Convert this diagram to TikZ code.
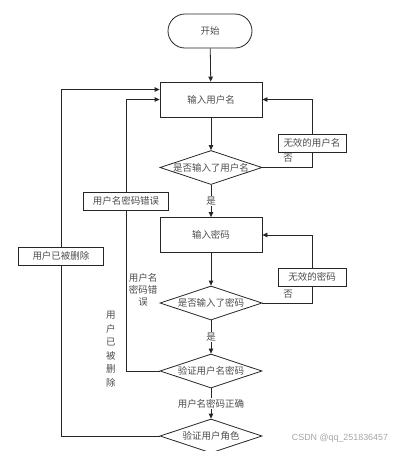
\documentclass[tikz,border=0pt]{standalone}
\usepackage{fontspec}
\newfontfamily\cjk{Noto Sans CJK SC}
\newfontfamily\wmfont{Liberation Sans}
\usetikzlibrary{shapes.geometric,arrows.meta,positioning}

\tikzset{
  flow/.style={draw=black!85, line width=0.8pt, inner sep=0pt},
  lbl/.style={text=black!70, font=\cjk\fontsize{9.5}{11}\selectfont, inner sep=1pt},
  terminal/.style={flow, lbl, rectangle, rounded corners=17pt, minimum width=84pt, minimum height=34pt},
  process/.style={flow, lbl, rectangle, minimum width=102pt, minimum height=35pt},
  decision/.style={flow, diamond, minimum width=102pt, minimum height=34pt},
  note/.style={flow, lbl, rectangle, fill=white, minimum height=18pt},
  conn/.style={draw=black!85, line width=0.8pt},
  arr/.style={conn, -{Triangle[length=5pt,width=4.5pt]}},
}

\begin{document}
\begin{tikzpicture}[x=1pt, y=-1pt]
  \useasboundingbox (0,0) rectangle (401,451);

  % main column
  \node[terminal] (start) at (210,31) {开始};
  \node[process] (inuser) at (211,99.5) {输入用户名};
  \node[decision, label={[lbl]center:是否输入了用户名}] (chkuser) at (211,167.5) {};
  \node[process] (inpwd) at (211,235) {输入密码};
  \node[decision, label={[lbl]center:是否输入了密码}] (chkpwd) at (211,303) {};
  \node[decision, label={[lbl]center:验证用户名密码}] (verify) at (211,371) {};
  \node[decision, label={[lbl]center:验证用户角色}] (role) at (211,436) {};

  % side boxes
  \node[note, minimum width=68pt] (badUser) at (312,143) {无效的用户名};
  \node[note, minimum width=68pt] (badPwd) at (312,277) {无效的密码};
  \node[note, minimum width=85pt] (errBox) at (126,201) {用户名密码错误};
  \node[note, minimum width=85pt] (delBox) at (61,256) {用户已被删除};

  % free labels
  \node[lbl] (noUser) at (288,158) {否};
  \node[lbl] (noPwd) at (288,294) {否};
  \node[lbl, align=center, font=\cjk\fontsize{9.5}{12}\selectfont] (errNote) at (143,290) {用户名\\密码错\\误};
  \node[lbl, align=center, font=\cjk\fontsize{9.5}{13.5}\selectfont] (delNote) at (111,349) {用\\户\\已\\被\\删\\除};
  \node[text=black!35, font=\wmfont\fontsize{8.9}{10}\selectfont] (mark) at (340,438) {CSDN @qq\_251836457};

  % connectors
  \draw[arr] (start) -- (inuser);
  \draw[arr] (inuser) -- (chkuser);
  \draw[conn] (chkuser.east) -| (badUser.south);
  \draw[arr] (badUser.north) |- (inuser.east);
  \draw[arr] (chkuser) -- node[lbl, fill=white] {是} (inpwd);
  \draw[arr] (inpwd) -- (chkpwd);
  \draw[conn] (chkpwd.east) -| (badPwd.south);
  \draw[arr] (badPwd.north) |- (inpwd.east);
  \draw[arr] (chkpwd) -- node[lbl, fill=white] {是} (verify);
  \draw[arr] (verify) -- node[lbl, fill=white] {用户名密码正确} (role);
  \draw[conn] (verify.west) -| (errBox.south);
  \draw[arr] (errBox.north) |- (inuser.west);
  \draw[conn] (role.west) -| (delBox.south);
  \draw[arr] (delBox.north) |- ([yshift=10pt]inuser.west);
\end{tikzpicture}
\end{document}
